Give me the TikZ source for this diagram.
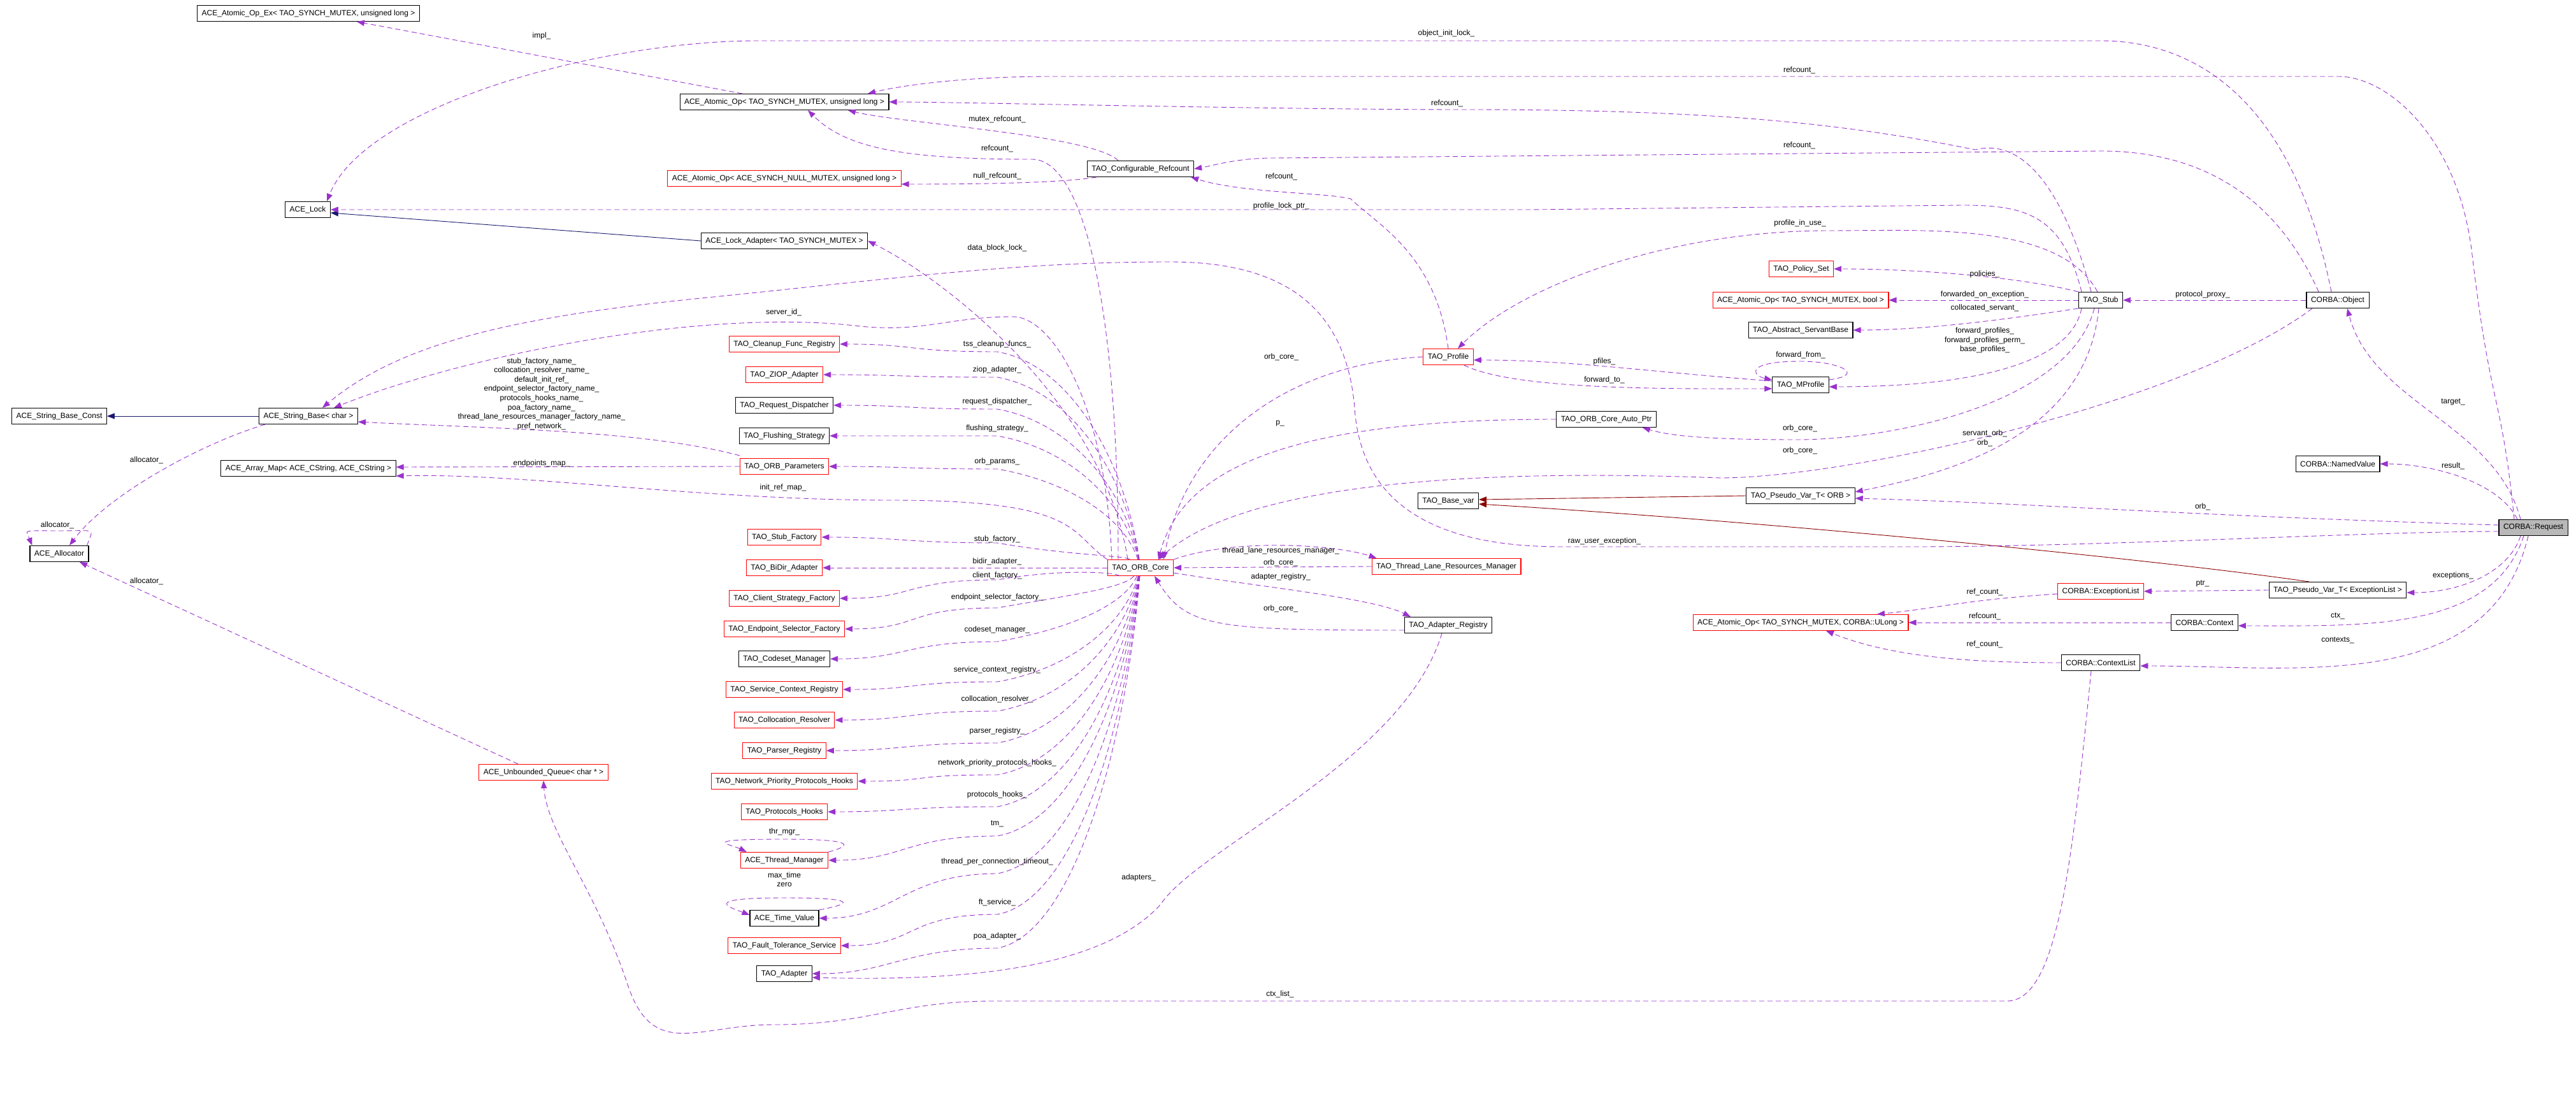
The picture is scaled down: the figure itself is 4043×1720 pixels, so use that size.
\documentclass[tikz,border=0pt]{standalone}
\usepackage{fontspec}
\setmainfont{Liberation Sans}
\usetikzlibrary{arrows.meta}
\definecolor{purp}{HTML}{9A32CD}
\definecolor{inhb}{HTML}{191970}
\definecolor{inhr}{HTML}{8B0000}
\newcommand\coredep[3]{\draw[dep] (core) .. controls ({1765},{(#2+12+891)/2}) and ({1680},{#2+12+#3*20}) .. (1565,{#2+12}) .. controls (1420,{#2+12}) and +(120,0) .. (#1.east);}
\begin{document}
\begin{tikzpicture}[x=1pt,y=-1pt,
  box/.style={draw=black,line width=1.1pt,minimum height=25pt,inner xsep=7pt,inner ysep=0pt,font=\fontsize{12}{14}\selectfont,fill=white},
  rbox/.style={box,draw=red},
  lbl/.style={font=\fontsize{12}{14.6}\selectfont,inner sep=0pt,align=center},
  dep/.style={draw=purp,line width=0.9pt,dash pattern=on 8pt off 5pt,-{Triangle[length=12pt,width=9pt]}},
  inhblue/.style={draw=inhb,line width=0.9pt,-{Triangle[length=12pt,width=9pt]}},
  inhred/.style={draw=inhr,line width=0.9pt,-{Triangle[length=12pt,width=9pt]}}]
\useasboundingbox (0,0) rectangle (4043,1720);
\fill[white] (0,0) rectangle (4043,1720);
% nodes
\node[box] (aopex) at (484,21) {ACE\_Atomic\_Op\_Ex< TAO\_SYNCH\_MUTEX, unsigned long >};
\node[box] (aop) at (1231,160) {ACE\_Atomic\_Op< TAO\_SYNCH\_MUTEX, unsigned long >};
\node[rbox] (aopnull) at (1231,280) {ACE\_Atomic\_Op< ACE\_SYNCH\_NULL\_MUTEX, unsigned long >};
\node[box] (cfgref) at (1790,265) {TAO\_Configurable\_Refcount};
\node[box] (lock) at (483,329) {ACE\_Lock};
\node[box] (lockad) at (1231,378) {ACE\_Lock\_Adapter< TAO\_SYNCH\_MUTEX >};
\node[box] (sbc) at (93,653) {ACE\_String\_Base\_Const};
\node[box] (sb) at (484,653) {ACE\_String\_Base< char >};
\node[box] (amap) at (484,735) {ACE\_Array\_Map< ACE\_CString, ACE\_CString >};
\node[box] (alloc) at (93,869) {ACE\_Allocator};
\node[rbox] (uq) at (853,1212) {ACE\_Unbounded\_Queue< char * >};
\node[rbox] (cleanup) at (1231,540) {TAO\_Cleanup\_Func\_Registry};
\node[rbox] (ziop) at (1231,588) {TAO\_ZIOP\_Adapter};
\node[box] (reqd) at (1231,636) {TAO\_Request\_Dispatcher};
\node[box] (flush) at (1231,684) {TAO\_Flushing\_Strategy};
\node[rbox] (orbp) at (1231,732) {TAO\_ORB\_Parameters};
\node[rbox] (stubf) at (1231,843) {TAO\_Stub\_Factory};
\node[rbox] (bidir) at (1231,891) {TAO\_BiDir\_Adapter};
\node[rbox] (csf) at (1231,939) {TAO\_Client\_Strategy\_Factory};
\node[rbox] (esf) at (1231,987) {TAO\_Endpoint\_Selector\_Factory};
\node[box] (codeset) at (1231,1034) {TAO\_Codeset\_Manager};
\node[rbox] (scr) at (1231,1082) {TAO\_Service\_Context\_Registry};
\node[rbox] (coll) at (1231,1130) {TAO\_Collocation\_Resolver};
\node[rbox] (parser) at (1231,1178) {TAO\_Parser\_Registry};
\node[rbox] (nph) at (1231,1226) {TAO\_Network\_Priority\_Protocols\_Hooks};
\node[rbox] (ph) at (1231,1274) {TAO\_Protocols\_Hooks};
\node[rbox] (thrm) at (1231,1350) {ACE\_Thread\_Manager};
\node[box] (tv) at (1231,1441) {ACE\_Time\_Value};
\node[rbox] (ft) at (1231,1484) {TAO\_Fault\_Tolerance\_Service};
\node[box] (adapter) at (1231,1528) {TAO\_Adapter};
\node[rbox] (core) at (1790,891) {TAO\_ORB\_Core};
\node[rbox] (tlrm) at (2270,889) {TAO\_Thread\_Lane\_Resources\_Manager};
\node[box] (areg) at (2273,981) {TAO\_Adapter\_Registry};
\node[box] (basevar) at (2273,786) {TAO\_Base\_var};
\node[rbox] (profile) at (2273,560) {TAO\_Profile};
\node[box] (autoptr) at (2521,658) {TAO\_ORB\_Core\_Auto\_Ptr};
\node[rbox] (policy) at (2827,422) {TAO\_Policy\_Set};
\node[rbox] (aopbool) at (2826,471) {ACE\_Atomic\_Op< TAO\_SYNCH\_MUTEX, bool >};
\node[box] (asb) at (2826,518) {TAO\_Abstract\_ServantBase};
\node[box] (mprof) at (2826,604) {TAO\_MProfile};
\node[box] (pvorb) at (2826,778) {TAO\_Pseudo\_Var\_T< ORB >};
\node[box] (stub) at (3297,471) {TAO\_Stub};
\node[box] (obj) at (3669,471) {CORBA::Object};
\node[box] (nv) at (3669,728) {CORBA::NamedValue};
\node[box,fill=black!28] (req) at (3976,828) {CORBA::Request};
\node[box] (pvel) at (3669,926) {TAO\_Pseudo\_Var\_T< ExceptionList >};
\node[rbox] (el) at (3297,928) {CORBA::ExceptionList};
\node[rbox] (aopul) at (2826,977) {ACE\_Atomic\_Op< TAO\_SYNCH\_MUTEX, CORBA::ULong >};
\node[box] (ctx) at (3460,977) {CORBA::Context};
\node[box] (cl) at (3297,1040) {CORBA::ContextList};
% inheritance
\draw[inhblue] (lockad.west) -- ([yshift=-5pt]lock.east);
\draw[inhblue] (sb.west) -- (sbc.east);
\draw[inhred] (pvorb.west) -- ([yshift=2pt]basevar.east);
\draw[inhred] ([xshift=-45]pvel.north) .. controls (3400,880) and (2800,820) .. ([yshift=-5pt]basevar.east);
% top region
\draw[dep] ([xshift=-66]aop.north) -- ([xshift=76]aopex.south);
\node[lbl] (l1) at (850,56) {impl\_};
\draw[dep] ([xshift=-10]obj.north) .. controls +(-60,-300) and +(150,0) .. (3297,64) -- (1190,64) .. controls +(-250,0) and +(60,-150) .. ([xshift=30]lock.north);
\node[lbl] (l2) at (2270,52) {object\_init\_lock\_};
\draw[dep] ([xshift=-30]req.north) .. controls +(-20,-200) and +(30,250) .. (3880,400) .. controls +(-20,-180) and +(80,0) .. (3670,120) -- (1650,120) .. controls +(-150,0) and +(40,-10) .. ([xshift=131]aop.north);
\node[lbl] (l3) at (2824,110) {refcount\_};
\draw[dep] ([xshift=-15]stub.north) .. controls +(-40,-150) and +(80,-20) .. (3100,235) .. controls +(-200,-40) and +(400,0) .. (2300,172) .. controls +(-300,0) and +(100,0) .. (aop.east);
\node[lbl] (l4) at (2271,162) {refcount\_};
\draw[dep] ([xshift=-35]cfgref.north) .. controls +(-40,-40) and +(80,20) .. ([xshift=100]aop.south);
\node[lbl] (l5) at (1565,187) {mutex\_refcount\_};
\draw[dep] ([xshift=-35]core.north) .. controls +(0,-400) and +(80,0) .. (1620,250) .. controls +(-200,0) and +(60,60) .. ([xshift=37]aop.south);
\node[lbl] (l6) at (1565,233) {refcount\_};
\draw[dep] ([xshift=15]cfgref.south west) .. controls +(-60,10) and +(100,0) .. ([yshift=-9pt]aopnull.east);
\node[lbl] (l7) at (1565,276) {null\_refcount\_};
\draw[dep] ([xshift=-30]obj.north) .. controls +(-80,-180) and +(120,0) .. (3297,237) -- (2000,248) .. controls +(-60,0) and +(30,-5) .. (cfgref.east);
\node[lbl] (l8) at (2824,228) {refcount\_};
\draw[dep] (profile.north) .. controls +(-20,-150) and +(40,40) .. (2120,312) .. controls +(-40,-10) and +(80,25) .. ([xshift=-5]cfgref.south east);
\node[lbl] (l9) at (2011,277) {refcount\_};
\draw[dep] ([xshift=-30]stub.north) .. controls +(-30,-120) and +(100,0) .. (3080,322) -- (2400,329) -- (lock.east);
\node[lbl] (l10) at (2011,323) {profile\_lock\_ptr\_};
\draw[dep] ([xshift=-20]core.north) .. controls +(-40,-250) and +(120,60) .. (lockad.east);
\node[lbl] (l11) at (1565,389) {data\_block\_lock\_};
\draw[dep] ([xshift=-45]core.north) .. controls +(-10,-250) and +(60,0) .. (1590,497) .. controls +(-100,0) and +(100,10) .. (1350,512) .. controls +(-250,-30) and +(200,-80) .. ([xshift=40]sb.north);
\node[lbl] (l12) at (1230,490) {server\_id\_};
\draw[dep] ([yshift=-6pt]req.west) .. controls +(-200,0) and +(300,0) .. (3000,858) -- (2450,858) .. controls +(-200,0) and +(10,150) .. (2126,640) .. controls +(-15,-180) and +(150,0) .. (1836,411) .. controls +(-250,0) and +(300,-30) .. (1100,468) .. controls +(-300,30) and +(120,-100) .. ([xshift=22]sb.north);
\node[lbl] (l13) at (2518,849) {raw\_user\_exception\_};
% string / allocator region
\draw[dep] ([yshift=4pt]orbp.north west) .. controls +(-150,-40) and +(200,10) .. ([yshift=-9pt]sb.east);
\node[lbl] (l14) at (850,618) {stub\_factory\_name\_\\collocation\_resolver\_name\_\\default\_init\_ref\_\\endpoint\_selector\_factory\_name\_\\protocols\_hooks\_name\_\\poa\_factory\_name\_\\thread\_lane\_resources\_manager\_factory\_name\_\\pref\_network\_};
\draw[dep] (orbp.west) -- ([yshift=2pt]amap.east);
\node[lbl] (l15) at (850,727) {endpoints\_map\_};
\draw[dep] (core.north west) .. controls +(-60,-40) and +(300,0) .. (1400,785) .. controls +(-300,0) and +(200,-5) .. ([yshift=-12pt]amap.east);
\node[lbl] (l16) at (1229,765) {init\_ref\_map\_};
\draw[dep] ([xshift=10]sb.south west) .. controls +(-100,30) and +(60,-80) .. ([xshift=16]alloc.north);
\node[lbl] (l17) at (230,722) {allocator\_};
\draw[dep] ([xshift=-3]alloc.north east) .. controls +(10,-28) and +(60,0) .. (93,833) .. controls +(-60,0) and +(-10,-25) .. ([xshift=4]alloc.north west);
\node[lbl] (l18) at (90,824) {allocator\_};
\draw[dep] ([xshift=-40]uq.north) -- ([xshift=32]alloc.south);
\node[lbl] (l19) at (230,912) {allocator\_};
\draw[dep] ([xshift=-15]cl.south) .. controls +(-30,300) and +(80,0) .. (3150,1571) -- (1560,1571) .. controls +(-150,0) and +(150,0) .. (1215,1608) .. controls +(-120,0) and +(40,120) .. (985,1545) .. controls +(-50,-150) and +(5,80) .. (uq.south);
\node[lbl] (l20) at (2009,1560) {ctx\_list\_};
% ORB core fan
\coredep{cleanup}{540}{1}\node[lbl] (c1) at (1565,540) {tss\_cleanup\_funcs\_};
\coredep{ziop}{580}{1}\node[lbl] (c2) at (1565,580) {ziop\_adapter\_};
\coredep{reqd}{630}{1}\node[lbl] (c3) at (1565,630) {request\_dispatcher\_};
\coredep{flush}{672}{1}\node[lbl] (c4) at (1565,672) {flushing\_strategy\_};
\coredep{orbp}{724}{1}\node[lbl] (c5) at (1565,724) {orb\_params\_};
\coredep{stubf}{840}{1}\node[lbl] (c6) at (1565,846) {stub\_factory\_};
\draw[dep] (core.west) -- (bidir.east);\node[lbl] (c7) at (1565,881) {bidir\_adapter\_};
\coredep{csf}{898}{-1}\node[lbl] (c8) at (1565,903) {client\_factory\_};
\coredep{esf}{942}{-1}\node[lbl] (c9) at (1565,937) {endpoint\_selector\_factory\_};
\coredep{codeset}{995}{-1}\node[lbl] (c10) at (1565,988) {codeset\_manager\_};
\coredep{scr}{1058}{-1}\node[lbl] (c11) at (1565,1051) {service\_context\_registry\_};
\coredep{coll}{1104}{-1}\node[lbl] (c12) at (1565,1097) {collocation\_resolver\_};
\coredep{parser}{1154}{-1}\node[lbl] (c13) at (1565,1147) {parser\_registry\_};
\coredep{nph}{1204}{-1}\node[lbl] (c14) at (1565,1197) {network\_priority\_protocols\_hooks\_};
\coredep{ph}{1254}{-1}\node[lbl] (c15) at (1565,1247) {protocols\_hooks\_};
\coredep{thrm}{1300}{-1}\node[lbl] (c16) at (1565,1293) {tm\_};
\coredep{tv}{1359}{-1}\node[lbl] (c17) at (1565,1352) {thread\_per\_connection\_timeout\_};
\coredep{ft}{1423}{-1}\node[lbl] (c18) at (1565,1416) {ft\_service\_};
\coredep{adapter}{1476}{-1}\node[lbl] (c19) at (1565,1469) {poa\_adapter\_};
\draw[dep] (thrm.north east) .. controls +(45,-12) and +(100,0) .. (1231,1317) .. controls +(-140,0) and +(-25,-12) .. ([xshift=10]thrm.north west);
\node[lbl] (c20) at (1231,1305) {thr\_mgr\_};
\draw[dep] (tv.north east) .. controls +(65,-12) and +(100,0) .. (1231,1409) .. controls +(-140,0) and +(-25,-10) .. ([yshift=5pt]tv.west);
\node[lbl] (c21) at (1231,1380) {max\_time\\zero};
\draw[dep] ([xshift=-10]areg.south) .. controls +(-60,200) and (1880,1330) .. (1821,1420) .. controls (1720,1530) and +(200,5) .. ([yshift=-6pt]adapter.east);
\node[lbl] (c22) at (1787,1377) {adapters\_};
% ORB core right side
\draw[dep] (core.north east) .. controls +(100,-35) and +(-60,-20) .. ([xshift=8]tlrm.north west);
\node[lbl] (r1) at (2010,864) {thread\_lane\_resources\_manager\_};
\draw[dep] (tlrm.west) -- (core.east);
\node[lbl] (r2) at (2010,883) {orb\_core\_};
\draw[dep] ([yshift=-8pt]core.east) .. controls +(120,20) and +(-60,-30) .. ([xshift=10]areg.north west);
\node[lbl] (r3) at (2010,905) {adapter\_registry\_};
\draw[dep] ([yshift=-8pt]areg.west) .. controls +(-300,0) and +(50,80) .. ([xshift=22]core.south);
\node[lbl] (r4) at (2010,955) {orb\_core\_};
\draw[dep] (profile.west) .. controls +(-200,10) and +(40,-200) .. ([xshift=36]core.north);
\node[lbl] (r5) at (2011,560) {orb\_core\_};
\draw[dep] (autoptr.west) .. controls +(-400,0) and +(40,-150) .. ([xshift=28]core.north);
\node[lbl] (r6) at (2009,665) {p\_};
\draw[dep] ([xshift=-40]obj.south) .. controls +(-200,150) and +(200,0) .. (2700,750) .. controls (2300,735) and (1950,760) .. ([xshift=-24]core.north east);
\node[lbl] (r7) at (2825,707) {orb\_core\_};
\draw[dep] ([xshift=-10]stub.south) .. controls +(-40,150) and +(150,0) .. (2820,690) .. controls +(-150,0) and +(40,12) .. ([xshift=-22]autoptr.south east);
\node[lbl] (r8) at (2825,672) {orb\_core\_};
% stub region
\draw[dep] ([xshift=-3]stub.south) .. controls +(-20,200) and +(150,-30) .. ([yshift=6pt]pvorb.east);
\node[lbl] (s1) at (3115,688) {servant\_orb\_\\orb\_};
\draw[dep] ([yshift=4pt]req.west) .. controls (3400,808) and (3200,790) .. ([yshift=-4pt]pvorb.east);
\node[lbl] (s2) at (3457,795) {orb\_};
\draw[dep] (stub.north west) .. controls +(-100,-25) and +(120,0) .. (policy.east);
\node[lbl] (s3) at (3115,430) {policies\_};
\draw[dep] (stub.west) -- (aopbool.east);
\node[lbl] (s4) at (3115,462) {forwarded\_on\_exception\_};
\draw[dep] (stub.south west) .. controls +(-100,15) and +(120,0) .. (asb.east);
\node[lbl] (s5) at (3115,483) {collocated\_servant\_};
\draw[dep] ([xshift=-30]stub.south) .. controls +(-20,100) and +(180,0) .. ([yshift=-3pt]mprof.east);
\node[lbl] (s6) at (3115,534) {forward\_profiles\_\\forward\_profiles\_perm\_\\base\_profiles\_};
\draw[dep] ([yshift=8pt]mprof.east) .. controls +(60,-8) and +(60,0) .. (2826,567) .. controls +(-90,0) and +(-30,-6) .. ([yshift=8pt]mprof.west);
\node[lbl] (s7) at (2826,557) {forward\_from\_};
\draw[dep] ([yshift=6pt]mprof.west) .. controls +(-200,-15) and +(150,0) .. ([yshift=-5pt]profile.east);
\node[lbl] (s8) at (2518,567) {pfiles\_};
\draw[dep] ([xshift=-15]profile.south east) .. controls +(80,40) and +(-150,0) .. ([yshift=-6pt]mprof.west);
\node[lbl] (s9) at (2518,596) {forward\_to\_};
\draw[dep] ([xshift=-5]stub.north) .. controls +(-60,-110) and +(150,0) .. (2870,362) .. controls +(-250,0) and +(100,-100) .. ([xshift=15]profile.north);
\node[lbl] (s10) at (2825,350) {profile\_in\_use\_};
\draw[dep] (obj.west) -- (stub.east);
\node[lbl] (s11) at (3457,462) {protocol\_proxy\_};
% request region
\draw[dep] ([xshift=-20]req.north) .. controls +(-40,-150) and +(40,150) .. ([xshift=15]obj.south);
\node[lbl] (q1) at (3850,631) {target\_};
\draw[dep] ([xshift=-25]req.north) .. controls +(-30,-60) and +(80,0) .. (nv.east);
\node[lbl] (q2) at (3850,731) {result\_};
\draw[dep] ([xshift=-20]req.south) .. controls +(-20,60) and +(80,0) .. ([yshift=-4pt]pvel.east);
\node[lbl] (q3) at (3850,903) {exceptions\_};
\draw[dep] (pvel.west) -- (el.east);
\node[lbl] (q4) at (3457,916) {ptr\_};
\draw[dep] ([yshift=-4pt]el.west) .. controls +(-150,10) and +(100,-10) .. ([xshift=120]aopul.north);
\node[lbl] (q5) at (3115,929) {ref\_count\_};
\draw[dep] (ctx.west) -- (aopul.east);
\node[lbl] (q6) at (3115,967) {refcount\_};
\draw[dep] (cl.west) .. controls +(-150,0) and +(100,40) .. ([xshift=40]aopul.south);
\node[lbl] (q7) at (3115,1011) {ref\_count\_};
\draw[dep] ([xshift=-15]req.south) .. controls +(-50,150) and +(200,0) .. ([yshift=-5pt]ctx.east);
\node[lbl] (q8) at (3669,967) {ctx\_};
\draw[dep] ([xshift=-8]req.south) .. controls +(-60,250) and +(250,0) .. ([yshift=-5pt]cl.east);
\node[lbl] (q9) at (3669,1005) {contexts\_};
\end{tikzpicture}
\end{document}
